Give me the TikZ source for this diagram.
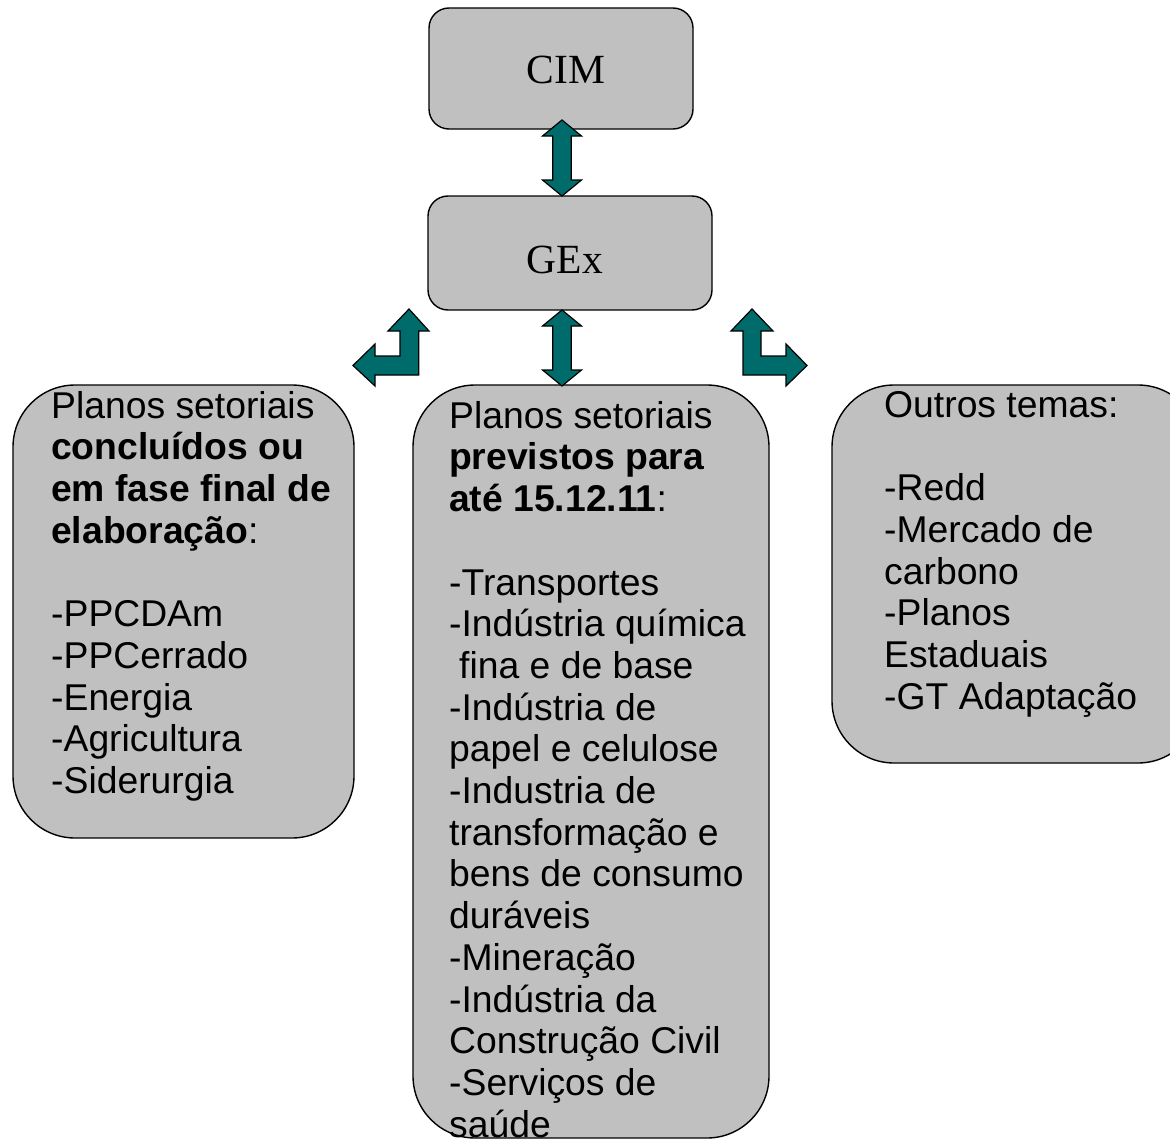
\documentclass[tikz,border=0pt]{standalone}
\usepackage{fontspec}
\setmainfont{Liberation Serif}
\newfontfamily\arialf{Liberation Sans}
\definecolor{boxgray}{HTML}{C0C0C0}
\definecolor{arrteal}{HTML}{006B6B}
\begin{document}
\begin{tikzpicture}[x=1pt,y=-1pt,
  gbox/.style={draw=black, line width=1.4pt, fill=boxgray},
  topbox/.style={gbox, rounded corners=20pt},
  bigbox/.style={gbox, rounded corners=62pt},
  txt/.style={anchor=north west, inner sep=0pt, align=left,
     font=\arialf\fontsize{37.3}{41.7}\selectfont},
  ttl/.style={font=\fontsize{41.5}{48}\selectfont, inner sep=0pt},
  blockarrow/.style={draw=black, line width=1.2pt, fill=arrteal, line join=miter}]
\useasboundingbox (0,0) rectangle (1170,1140);

% boxes
\draw[topbox] (429,8) rectangle (693,129);
\node[ttl] (cim) at (566,70) {CIM};
\draw[topbox] (428,196) rectangle (712,310);
\node[ttl] (gex) at (565,260) {GEx};
\draw[bigbox] (13,385) rectangle (354,838);
\draw[bigbox] (413,385) rectangle (769,1138);
\draw[bigbox] (832,385) rectangle (1200,763);

% texts
\node[txt] (left) at (51,391) {Planos setoriais\\
\textbf{concluídos ou}\\
\textbf{em fase final de}\\
\textbf{elaboração}:\\[41.7pt]
-PPCDAm\\
-PPCerrado\\
-Energia\\
-Agricultura\\
-Siderurgia};

\node[txt] (center) at (449,401) {Planos setoriais\\
\textbf{previstos para}\\
\textbf{até 15.12.11}:\\[41.7pt]
-Transportes\\
-Indústria química\\
\hspace*{10pt}fina e de base\\
-Indústria de\\
papel e celulose\\
-Industria de\\
transformação e\\
bens de consumo\\
duráveis\\
-Mineração\\
-Indústria da\\
Construção Civil\\
-Serviços de\\
saúde};

\node[txt] (right) at (884,391) {Outros temas:\\[41.7pt]
-Redd\\
-Mercado de\\
carbono\\
-Planos\\
Estaduais\\
-GT Adaptação};

% vertical double arrows
\foreach \ya/\yb in {120/196, 310/386}{
  \draw[blockarrow] (562,\ya) -- (581.5,\ya+16) -- (571.3,\ya+16) -- (571.3,\yb-16)
    -- (581.5,\yb-16) -- (562,\yb) -- (542.5,\yb-16) -- (552.7,\yb-16)
    -- (552.7,\ya+16) -- (542.5,\ya+16) -- cycle;
}
% left bent arrow
\draw[blockarrow] (409,309) -- (429,331) -- (418.7,331) -- (418.7,375) -- (375,375)
  -- (375,386) -- (353,365.5) -- (375,344) -- (375,356) -- (400,356) -- (400,331)
  -- (388,331) -- cycle;
% right bent arrow
\draw[blockarrow] (752,309) -- (773,331) -- (761,331) -- (761,356) -- (786,356)
  -- (786,344) -- (807,365.5) -- (786,386) -- (786,375) -- (743,375) -- (743,331)
  -- (731,331) -- cycle;
\end{tikzpicture}
\end{document}
